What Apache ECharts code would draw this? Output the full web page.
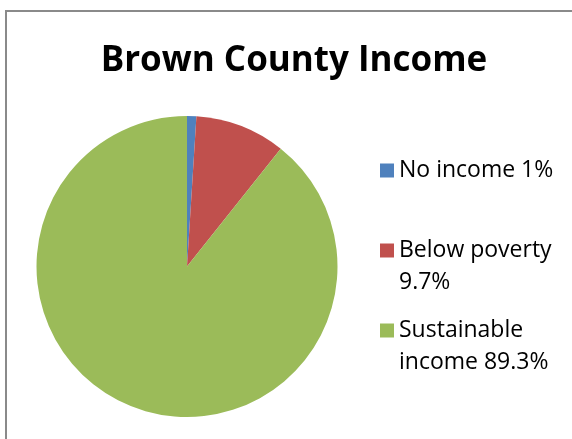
<!DOCTYPE html>
<html>
<head>
<meta charset="utf-8">
<script src="https://cdn.jsdelivr.net/npm/echarts@6/dist/echarts.min.js"></script>
<style>
html,body{margin:0;padding:0;background:#fff;}
#chart{width:572px;height:439px;}
</style>
</head>
<body>
<div id="chart"></div>
<script>
const titleText = 'Brown County Income';
const categories = ['No income 1%', 'Below poverty\n9.7%', 'Sustainable\nincome 89.3%'];
const values = [1, 9.7, 89.3];
const colors = ['#4F81BD', '#C0504D', '#9BBB59'];

const chart = echarts.init(document.getElementById('chart'), null, {renderer: 'canvas'});
const FONT = '"Open Sans", sans-serif';
const legendTops = [154.5, 202.5, 282.5];

const legends = categories.map(function (name, i) {
  const twoLine = name.indexOf('\n') >= 0;
  return {
    show: true,
    left: 380,
    top: legendTops[i],
    padding: 0,
    orient: 'vertical',
    icon: 'rect',
    itemWidth: 14,
    itemHeight: 14,
    itemGap: 0,
    selectedMode: false,
    data: [name],
    // leading blank line keeps the icon level with the first text line
    formatter: function (n) { return twoLine ? '\n' + n : n; },
    textStyle: {
      fontFamily: FONT,
      fontSize: 23,
      color: '#000',
      lineHeight: 32
    }
  };
});

chart.setOption({
  animation: false,
  backgroundColor: '#fff',
  title: {
    text: titleText,
    left: 294,
    top: 44,
    padding: 0,
    textAlign: 'center',
    textStyle: {fontFamily: FONT, fontWeight: 'bold', fontSize: 35, color: '#000'}
  },
  graphic: [{
    type: 'rect',
    shape: {x: 6, y: 11, width: 700, height: 600},
    style: {fill: 'none', stroke: '#8a8a8a', lineWidth: 2},
    silent: true,
    z: -10
  }],
  legend: legends,
  series: [{
    type: 'pie',
    center: [187, 266.5],
    radius: 150.5,
    startAngle: 90,
    clockwise: true,
    label: {show: false},
    labelLine: {show: false},
    itemStyle: {borderWidth: 0},
    emphasis: {disabled: true},
    data: categories.map(function (n, i) {
      return {name: n, value: values[i], itemStyle: {color: colors[i]}};
    })
  }]
});
</script>
</body>
</html>
